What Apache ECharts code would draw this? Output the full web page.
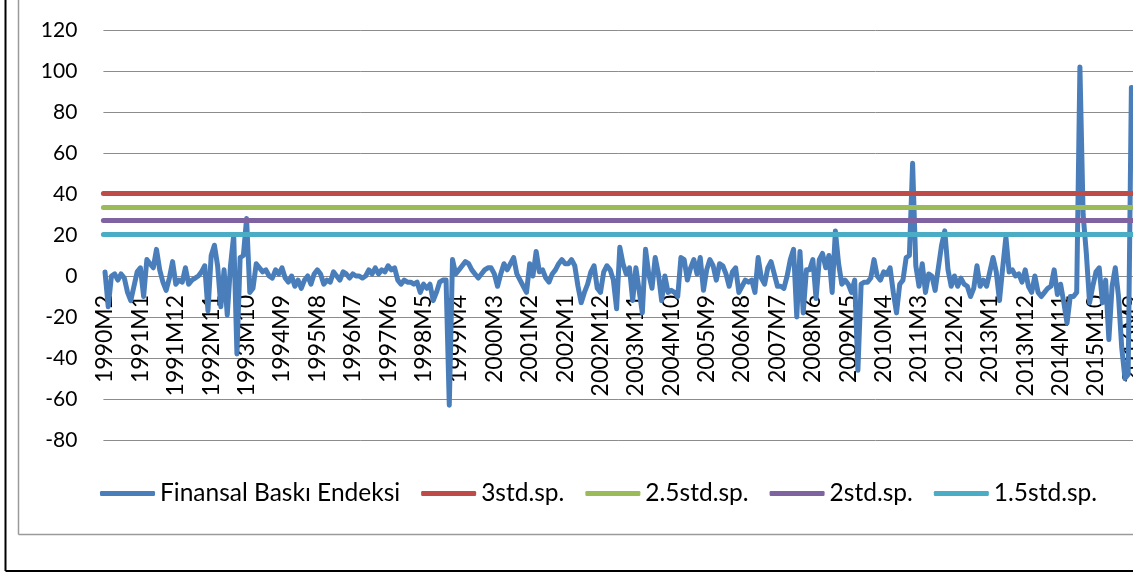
<!DOCTYPE html>
<html>
<head>
<meta charset="utf-8">
<script src="https://cdn.jsdelivr.net/npm/echarts@6/dist/echarts.min.js"></script>
<style>
  html, body { margin: 0; padding: 0; background: #ffffff; }
  #chart { width: 1133px; height: 572px; }
</style>
</head>
<body>
<div id="chart"></div>
<script>
// Monthly financial stress index, one array per year (1990 starts in February).
const firstYear = 1990;
const firstMonth = 2;
const y1990 = [2, -15, 0, 1, -2, 1, -1, -8, -12, -5, 2];
const y1991 = [4, -10, 8, 6, 4, 13, 3, -3, -7, -1, 7, -4];
const y1992 = [-2, -3, 4, -4, -2, -1, 0, 2, 5, -17, 10, 15];
const y1993 = [5, -15, 3, -19, 5, 20, -38, 9, 10, 28, -8, -6];
const y1994 = [6, 4, 2, 3, 0, -1, 3, 1, 4, -1, -3, 0];
const y1995 = [-5, -2, -6, -2, 0, -4, 1, 3, 1, -4, -2, -3];
const y1996 = [2, 0, -2, 2, 1, -1, 1, 0, 0, -1, 0, 3];
const y1997 = [1, 4, 1, 3, 2, 5, 3, 4, -2, -4, -2, -3];
const y1998 = [-3, -4, -3, -8, -4, -6, -4, -12, -8, -3, -2, -2];
const y1999 = [-63, 8, 1, 3, 5, 7, 6, 3, 1, -1, 1, 3];
const y2000 = [4, 4, 1, -5, 1, 6, 3, 6, 9, 1, -2, -5];
const y2001 = [-8, 6, 0, 12, 2, 3, -1, -3, 1, 3, 6, 8];
const y2002 = [6, 6, 8, 5, -5, -13, -8, -4, 2, 5, -6, -8];
const y2003 = [2, 5, 3, -2, -16, 14, 6, 1, 4, -12, 4, -7];
const y2004 = [-18, 13, 1, -6, 9, 1, -12, 0, -8, -7, -8, -10];
const y2005 = [9, 8, -2, 4, 8, 1, 9, -7, 3, 8, 5, -2];
const y2006 = [6, 5, 1, -5, 2, 4, -8, -5, -2, -3, -2, -8];
const y2007 = [9, -1, -4, 4, 7, 1, -5, -5, -6, 0, 8, 13];
const y2008 = [-20, 12, -18, 3, 3, 8, -11, 8, 11, 4, 10, -8];
const y2009 = [22, 6, -4, -2, -4, -8, -2, -46, -4, -3, -3, -1];
const y2010 = [8, 0, -2, 2, 1, 4, -8, -18, -4, -2, 9, 10];
const y2011 = [55, 5, -5, 6, -8, 1, 0, -7, 4, 15, 22, 3];
const y2012 = [-5, 0, -5, -1, -4, -5, -10, -6, 5, -5, -2, -5];
const y2013 = [2, 9, 2, -12, 4, 19, 2, 3, 0, 1, -3, 3];
const y2014 = [-5, -8, 0, -8, -10, -8, -6, -5, 3, -9, -4, -13];
const y2015 = [-23, -10, -10, -8, 102, 30, 11, -13, -5, 2, 4, -13];
const y2016 = [-2, -31, -5, 4, -10, -35, -50, -48, 92];

const yearly = [y1990, y1991, y1992, y1993, y1994, y1995, y1996, y1997, y1998,
  y1999, y2000, y2001, y2002, y2003, y2004, y2005, y2006, y2007, y2008, y2009,
  y2010, y2011, y2012, y2013, y2014, y2015, y2016];

// Standard-deviation thresholds
const sd3 = 40.5;
const sd25 = 33.75;
const sd2 = 27;
const sd15 = 20.25;

const yMin = -80;
const yMax = 120;
const yStep = 20;

const seriesNames = ['Finansal Baskı Endeksi', '3std.sp.', '2.5std.sp.', '2std.sp.', '1.5std.sp.'];
const colors = ['#4a7ebb', '#be4b48', '#9bbb59', '#7f63a1', '#4bacc6'];

// Category labels like "1990M2", built alongside the values
const months = [];
const stress = [];
yearly.forEach((vals, k) => {
  const year = firstYear + k;
  const m0 = k === 0 ? firstMonth : 1;
  vals.forEach((v, j) => {
    months.push(year + 'M' + (m0 + j));
    stress.push(v);
  });
});

const font = 'Lato, "Open Sans", sans-serif';

// Plot box in pixels; the category axis sits on the zero line
const plotTop = 30;
const plotHeight = 410;
const zeroShift = plotHeight * (0 - yMin) / (yMax - yMin);

function thresholdSeries(name, value, color) {
  return {
    name: name,
    type: 'line',
    data: [],
    color: color,
    lineStyle: { color: color, width: 5 },
    markLine: {
      silent: true,
      symbol: 'none',
      animation: false,
      label: { show: false },
      lineStyle: { color: color, width: 5, type: 'solid', cap: 'round' },
      emphasis: { disabled: true },
      data: [{ yAxis: value }]
    }
  };
}

const chart = echarts.init(document.getElementById('chart'), null, { renderer: 'canvas' });
chart.setOption({
  animation: false,
  backgroundColor: '#ffffff',
  grid: {
    left: 103.4, right: 0, top: plotTop, height: plotHeight,
    containLabel: false, outerBoundsMode: 'none'
  },
  xAxis: {
    type: 'category',
    data: months,
    boundaryGap: true,
    position: 'bottom',
    offset: -zeroShift,
    axisLine: { onZero: false, lineStyle: { color: '#8c8c8c', width: 1 } },
    axisTick: { show: false },
    axisLabel: {
      interval: 10,
      rotate: 90,
      margin: 19,
      color: '#000000',
      fontFamily: font,
      fontSize: 23,
      hideOverlap: false
    },
    splitLine: { show: false }
  },
  yAxis: {
    type: 'value',
    min: yMin,
    max: yMax,
    interval: yStep,
    axisLine: { show: false },
    axisTick: { show: false },
    axisLabel: { color: '#000000', fontFamily: font, fontSize: 21, margin: 26 },
    splitLine: { lineStyle: { color: '#8c8c8c', width: 1 } }
  },
  legend: {
    left: 95,
    top: 476,
    itemWidth: 55,
    itemHeight: 5,
    itemGap: 21,
    icon: 'roundRect',
    textStyle: { color: '#000000', fontFamily: font, fontSize: 24.5 },
    data: seriesNames
  },
  series: [
    {
      name: seriesNames[0],
      type: 'line',
      data: stress,
      color: colors[0],
      showSymbol: false,
      symbol: 'none',
      lineStyle: { color: colors[0], width: 5, join: 'round', cap: 'round' },
      z: 2
    },
    thresholdSeries(seriesNames[1], sd3, colors[1]),
    thresholdSeries(seriesNames[2], sd25, colors[2]),
    thresholdSeries(seriesNames[3], sd2, colors[3]),
    thresholdSeries(seriesNames[4], sd15, colors[4])
  ],
  graphic: [
    { type: 'line', silent: true, shape: { x1: 18.5, y1: -5, x2: 18.5, y2: 534.5 }, style: { stroke: '#9a9a9a', lineWidth: 1.5 } },
    { type: 'line', silent: true, shape: { x1: 18.5, y1: 534.5, x2: 1140, y2: 534.5 }, style: { stroke: '#9a9a9a', lineWidth: 1.5 } },
    { type: 'line', silent: true, shape: { x1: 5.5, y1: -5, x2: 5.5, y2: 571 }, style: { stroke: '#000000', lineWidth: 2 } },
    { type: 'line', silent: true, shape: { x1: 5.5, y1: 571, x2: 1140, y2: 571 }, style: { stroke: '#000000', lineWidth: 2 } }
  ]
});
</script>
</body>
</html>
